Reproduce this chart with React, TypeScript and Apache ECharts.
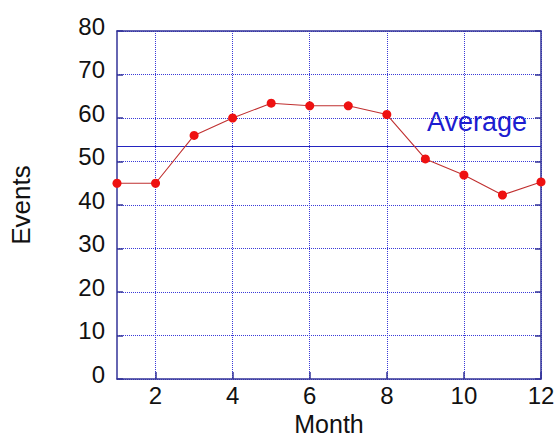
import React, { useEffect, useRef } from "react";
import * as echarts from "echarts";

const months = [1, 2, 3, 4, 5, 6, 7, 8, 9, 10, 11, 12];
const events = [45, 45, 56, 60, 63.4, 62.8, 62.8, 60.8, 50.6, 46.9, 42.3, 45.3];
const xTicks = [2, 4, 6, 8, 10, 12];
const averageLabel = "Average";

export default function App() {
  const ref = useRef<HTMLDivElement>(null);
  useEffect(() => {
    if (!ref.current) return;
    const chart = echarts.init(ref.current, null, { renderer: "svg" });
    const axisColor = "#333399";
    const gridColor = "#3a3ad8";
    const font = "Liberation Sans, Arial, sans-serif";
    chart.setOption({
      animation: false,
      backgroundColor: "#ffffff",
      grid: { left: 117, right: 17, top: 31, bottom: 58, containLabel: false, outerBoundsMode: "none" },
      xAxis: [
        {
          type: "value",
          min: 1,
          max: 12,
          name: "Month",
          nameLocation: "middle",
          nameGap: 27,
          nameTextStyle: { fontSize: 25, color: "#111", fontFamily: font },
          axisLine: { show: true, lineStyle: { color: axisColor, width: 1.5 } },
          axisTick: { show: true, inside: true, length: 7, customValues: xTicks, lineStyle: { color: axisColor, width: 1.5 } },
          axisLabel: { customValues: xTicks, fontSize: 24, color: "#111", margin: 4, fontFamily: font },
          splitLine: { show: true, lineStyle: { color: gridColor, type: [1, 1], width: 1 } },
        },
        {
          type: "value",
          min: 1,
          max: 12,
          position: "top",
          axisLine: { show: true, onZero: false, lineStyle: { color: axisColor, width: 1.5 } },
          axisTick: { show: false },
          axisLabel: { show: false },
          splitLine: { show: false },
        },
      ],
      yAxis: [
        {
          type: "value",
          min: 0,
          max: 80,
          interval: 10,
          name: "Events",
          nameLocation: "middle",
          nameRotate: 90,
          nameGap: 83,
          nameTextStyle: { fontSize: 26, color: "#111", fontFamily: font },
          axisLine: { show: true, lineStyle: { color: axisColor, width: 1.5 } },
          axisTick: { show: true, inside: true, length: 6, lineStyle: { color: axisColor, width: 1.5 } },
          axisLabel: { fontSize: 24, color: "#111", margin: 12, fontFamily: font, verticalAlign: "bottom", lineHeight: 10 },
          splitLine: { show: true, lineStyle: { color: gridColor, type: [1, 1], width: 1 } },
        },
        {
          type: "value",
          min: 0,
          max: 80,
          interval: 10,
          position: "right",
          axisLine: { show: true, onZero: false, lineStyle: { color: axisColor, width: 1.5 } },
          axisTick: { show: true, inside: true, length: 6, lineStyle: { color: axisColor, width: 1.5 } },
          axisLabel: { show: false },
          splitLine: { show: false },
        },
      ],
      series: [
        {
          type: "line",
          data: months.map((m, i) => [m, events[i]]),
          symbol: "circle",
          symbolSize: 9,
          itemStyle: { color: "#ee1111" },
          lineStyle: { color: "#c03030", width: 1.1 },
          z: 5,
          markLine: {
            silent: true,
            symbol: ["none", "none"],
            data: [{ type: "average", valueDim: "y", name: averageLabel }],
            lineStyle: { color: "#2424c0", width: 1.2, type: "solid" },
            label: {
              show: true,
              position: "insideEndTop",
              formatter: averageLabel,
              fontSize: 27,
              color: "#1c1cd0",
              fontFamily: font,
              distance: [14, 11],
            },
            z: 3,
          },
        },
      ],
    });
    return () => chart.dispose();
  }, []);
  return <div ref={ref} style={{ width: 558, height: 437, position: "absolute", left: 0, top: 0 }} />;
}
